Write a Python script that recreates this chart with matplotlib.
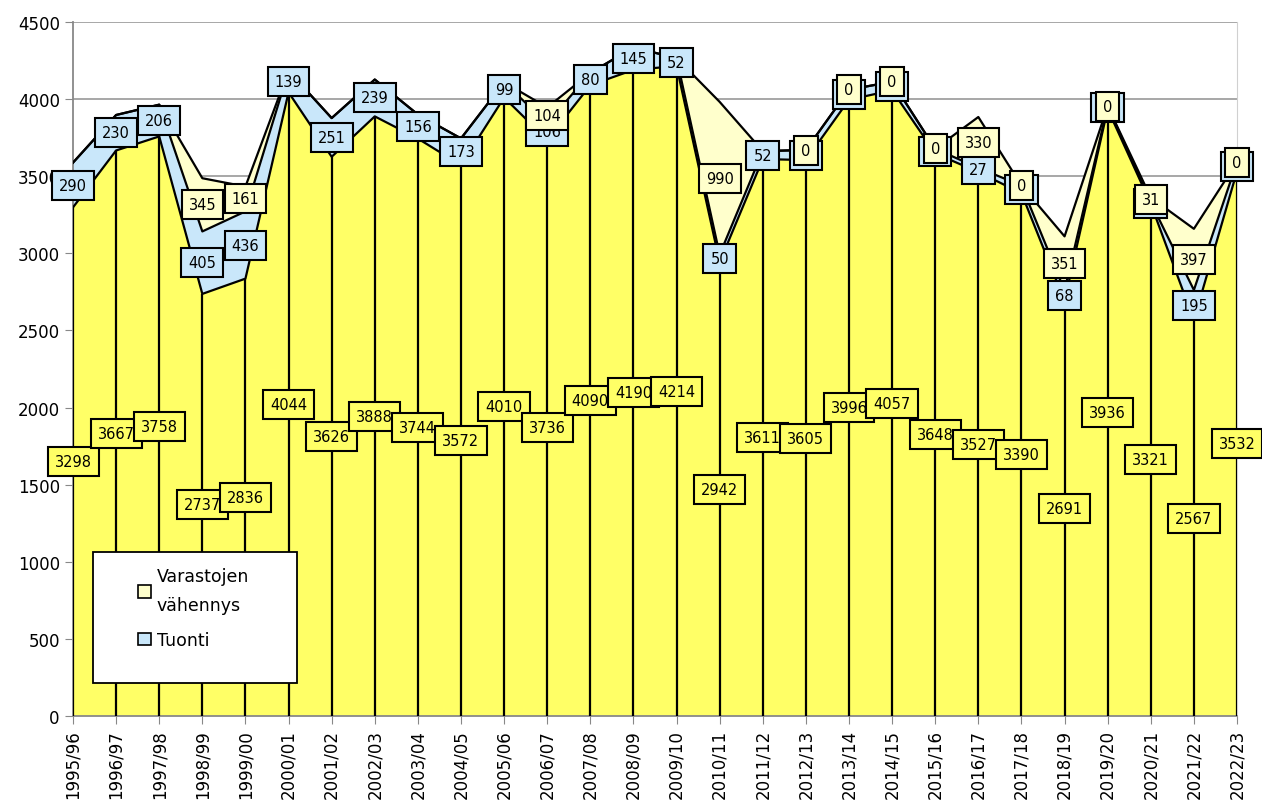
import numpy as np
import matplotlib
matplotlib.use("Agg")
import matplotlib.pyplot as plt
from matplotlib.patches import Rectangle, Patch

# --- DATA ---
years = ["1995/96", "1996/97", "1997/98", "1998/99", "1999/00", "2000/01", "2001/02",
         "2002/03", "2003/04", "2004/05", "2005/06", "2006/07", "2007/08", "2008/09",
         "2009/10", "2010/11", "2011/12", "2012/13", "2013/14", "2014/15", "2015/16",
         "2016/17", "2017/18", "2018/19", "2019/20", "2020/21", "2021/22", "2022/23"]

# kotimainen tuotanto (alin kerros)
tuotanto = [3298, 3667, 3758, 2737, 2836, 4044, 3626, 3888, 3744, 3572, 4010, 3736, 4090, 4190,
            4214, 2942, 3611, 3605, 3996, 4057, 3648, 3527, 3390, 2691, 3936, 3321, 2567, 3532]

# osa arvoista on piilossa toisen laatikon alla -> arvioitu
tuonti = [290, 230, 206, 405, 436, 139, 251, 239, 156, 173, 99, 106, 80, 145,
          52, 50, 52, 65, 65, 56, 30, 27, 50, 68, 18, 10, 195, 60]

# None = tyhjä solu (ei arvoa eikä tunnistetta)
varastot = [None, None, None, 345, 161, None, None, None, None, None, None, 104, None, None,
            None, 990, None, 0, 0, 0, 0, 330, 0, 351, 0, 31, 397, 0]

# --- VÄRIT ---
C_BASE = "#FFFF66"
C_TUONTI = "#C9E7FA"
C_VAR = "#FFFFCC"

x = np.arange(len(years))
base = np.array(tuotanto, dtype=float)
imp = np.array(tuonti, dtype=float)
stock = np.array([0 if v is None else v for v in varastot], dtype=float)

top1 = base + imp
top2 = top1 + stock

fig = plt.figure(figsize=(12.62, 8.04), dpi=100)
ax = fig.add_axes([73 / 1262, 1 - 717 / 804, (1237 - 73) / 1262, (717 - 23) / 804])

# --- Flächen ---
ax.fill_between(x, top1, top2, facecolor=C_VAR, edgecolor="none", zorder=2)
ax.fill_between(x, base, top1, facecolor=C_TUONTI, edgecolor="none", zorder=2)
ax.fill_between(x, 0, base, facecolor=C_BASE, edgecolor="none", zorder=2)
ax.plot(x, top2, color="black", lw=1.6, zorder=3)
ax.plot(x, top1, color="black", lw=1.6, zorder=3)
ax.plot(x, base, color="black", lw=1.6, zorder=3)
ax.vlines(x, 0, base, colors="black", lw=1.6, zorder=3)

# --- Datenbeschriftungen ---
def box_label(xp, yp, txt, fc, z):
    ax.text(xp, yp, txt, ha="center", va="center", fontsize=10.5, zorder=z,
            bbox=dict(boxstyle="square,pad=0.48", fc=fc, ec="black", lw=1.5))

for i in range(len(x)):
    box_label(x[i], base[i] / 2, str(tuotanto[i]), C_BASE, 5)
    box_label(x[i], base[i] + imp[i] / 2, str(tuonti[i]), C_TUONTI, 6)
    if varastot[i] is not None:
        box_label(x[i], top1[i] + stock[i] / 2, str(varastot[i]), C_VAR, 7)

# --- Achsen ---
ax.set_xlim(0, len(years) - 1)
ax.set_ylim(0, 4500)
ax.set_yticks(np.arange(0, 4501, 500))
ax.set_xticks(x)
ax.set_xticklabels(years, rotation=90, fontsize=12)
ax.tick_params(axis="y", labelsize=12, length=6, color="#888888", direction="out")
ax.tick_params(axis="x", length=6, color="#888888", direction="out")
ax.yaxis.grid(True, color="#A0A0A0", lw=1.3, zorder=0)
ax.set_axisbelow(True)
for s in ["left", "bottom"]:
    ax.spines[s].set_color("#888888")
    ax.spines[s].set_linewidth(1.3)
ax.spines["right"].set_color("#D0D0D0")
ax.spines["top"].set_visible(False)

# --- Legende ---
ax.add_patch(Rectangle((0.0172, 0.0476), 0.1752, 0.1887, transform=ax.transAxes,
                       fc="white", ec="black", lw=1.3, zorder=8))
handles = [Patch(fc=C_VAR, ec="black", lw=1.2), Patch(fc=C_TUONTI, ec="black", lw=1.2)]
leg = ax.legend(handles, ["Varastojen\nvähennys", "Tuonti"], loc="upper left",
                bbox_to_anchor=(0.042, 0.237), frameon=False, fontsize=12.5,
                handlelength=0.75, handleheight=0.75, handletextpad=0.35, labelspacing=1.0)
for t in leg.get_texts():
    t.set_linespacing(1.75)
leg.set_zorder(9)

fig.savefig("out.png", dpi=100)
